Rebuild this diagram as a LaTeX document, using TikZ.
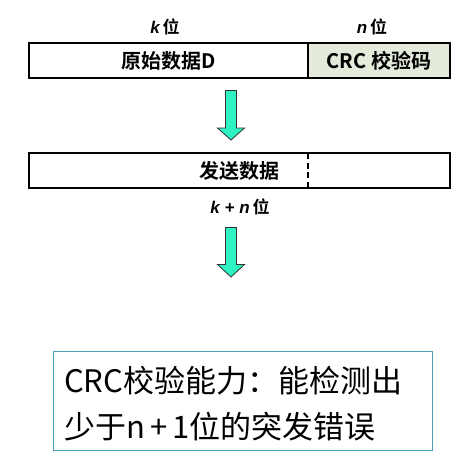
\documentclass[tikz,border=0pt]{standalone}
\usepackage{fontspec}
\newfontfamily\cjk{Noto Sans CJK SC}
\newfontfamily\cjkb{Noto Sans CJK SC Bold}
\newfontfamily\lsans{Liberation Sans}
\definecolor{crcfill}{HTML}{E4EBDA}
\definecolor{arrowfill}{HTML}{2EF2C2}
\definecolor{boxline}{HTML}{4AA3B5}
\begin{document}
\begin{tikzpicture}[x=1pt,y=-1pt,
  field/.style={draw=black,line width=1.8pt,minimum height=35pt,inner sep=0pt,
    font=\cjkb\fontsize{20}{20}\selectfont},
  lab/.style={inner sep=0pt,font=\cjkb\fontsize{17}{17}\selectfont},
  bigarrow/.style={draw=black!80,line width=0.8pt,fill=arrowfill,line join=miter},
]
\useasboundingbox (0,0) rectangle (473,468);
% labels
\node[lab] (klab) at (165,27) {{\lsans\bfseries\itshape k}\,位};
\node[lab] (nlab) at (372,27) {{\lsans\bfseries\itshape n}\,位};
% top box
\node[field,minimum width=279pt] (data) at (168.5,60.5) {原始数据D};
\node[field,minimum width=142pt,fill=crcfill] (crc) at (379,60.5) {CRC 校验码};
% arrow 1
\draw[bigarrow] (225.5,90.5) -- (225.5,128) -- (217.5,128) -- (231,140) -- (244.5,128) -- (236.5,128) -- (236.5,90.5) -- cycle;
% second box
\node[field,minimum width=421pt] (send) at (239.5,170.5) {};
\node[inner sep=0pt,font=\cjkb\fontsize{20}{20}\selectfont] (sendt) at (239.5,170.5) {发送数据};
\draw[line width=1.6pt,dash pattern=on 6pt off 3.5pt] (308,153) -- (308,188);
\node[lab] (knlab) at (240,207) {{\lsans\bfseries\itshape k\ +\ n}\,位};
% arrow 2
\draw[bigarrow] (225.5,227.5) -- (225.5,264.5) -- (217.5,264.5) -- (231,277) -- (244.5,264.5) -- (236.5,264.5) -- (236.5,227.5) -- cycle;
% bottom box
\node[draw=boxline,line width=0.9pt,minimum width=379pt,minimum height=99pt,inner sep=0pt] (note) at (242.5,400.5) {};
\node[anchor=north west,inner sep=0pt,align=left,font=\cjk\fontsize{31}{46}\selectfont] (notet) at (64,366) {CRC校验能力：能检测出\\少于n\,+\,1位的突发错误};
\end{tikzpicture}
\end{document}
